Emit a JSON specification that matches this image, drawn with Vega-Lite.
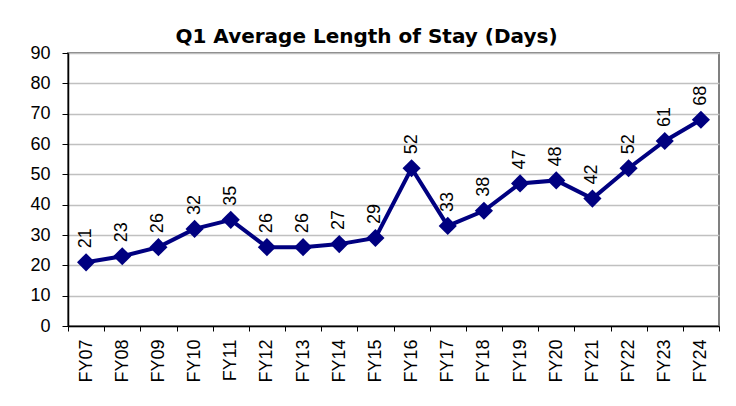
{
  "$schema": "https://vega.github.io/schema/vega-lite/v6.json",
  "autosize": "none",
  "width": 651,
  "height": 273,
  "padding": {"left": 68, "top": 53, "right": 17, "bottom": 80},
  "background": "white",
  "title": {
    "text": "Q1 Average Length of Stay (Days)",
    "font": "DejaVu Sans",
    "fontSize": 20,
    "fontWeight": "bold",
    "color": "black",
    "anchor": "middle",
    "dx": -27,
    "dy": 13,
    "offset": 10
  },
  "data": {
    "values": [
      {"fy": "FY07", "days": 21},
      {"fy": "FY08", "days": 23},
      {"fy": "FY09", "days": 26},
      {"fy": "FY10", "days": 32},
      {"fy": "FY11", "days": 35},
      {"fy": "FY12", "days": 26},
      {"fy": "FY13", "days": 26},
      {"fy": "FY14", "days": 27},
      {"fy": "FY15", "days": 29},
      {"fy": "FY16", "days": 52},
      {"fy": "FY17", "days": 33},
      {"fy": "FY18", "days": 38},
      {"fy": "FY19", "days": 47},
      {"fy": "FY20", "days": 48},
      {"fy": "FY21", "days": 42},
      {"fy": "FY22", "days": 52},
      {"fy": "FY23", "days": 61},
      {"fy": "FY24", "days": 68}
    ]
  },
  "encoding": {
    "x": {
      "field": "fy",
      "type": "ordinal",
      "scale": {"type": "band", "paddingInner": 0, "paddingOuter": 0},
      "axis": {
        "title": null,
        "labelAngle": -90,
        "labelFont": "Liberation Sans",
        "labelFontSize": 18,
        "labelColor": "black",
        "labelPadding": 8,
        "tickBand": "extent",
        "tickColor": "black",
        "tickSize": 5,
        "domainColor": "black",
        "domainWidth": 1.5,
        "grid": false
      }
    },
    "y": {
      "field": "days",
      "type": "quantitative",
      "scale": {"domain": [0, 90], "nice": false},
      "axis": {
        "title": null,
        "values": [0, 10, 20, 30, 40, 50, 60, 70, 80, 90],
        "labelFont": "Liberation Sans",
        "labelFontSize": 18,
        "labelColor": "black",
        "labelPadding": 12,
        "tickColor": "black",
        "tickSize": 6,
        "domainColor": "black",
        "domainWidth": 1.5,
        "grid": true,
        "gridColor": "#c0c0c0",
        "gridWidth": 1.5
      }
    }
  },
  "layer": [
    {
      "mark": {"type": "line", "color": "#000080", "strokeWidth": 4}
    },
    {
      "mark": {"type": "point", "shape": "diamond", "filled": true, "color": "#000080", "size": 330, "opacity": 1}
    },
    {
      "mark": {"type": "text", "angle": 270, "align": "left", "baseline": "middle", "dx": 14, "font": "Liberation Sans", "fontSize": 18, "color": "black"},
      "encoding": {"text": {"field": "days", "type": "quantitative"}}
    }
  ],
  "config": {
    "view": {"stroke": "#808080", "strokeWidth": 2}
  }
}
